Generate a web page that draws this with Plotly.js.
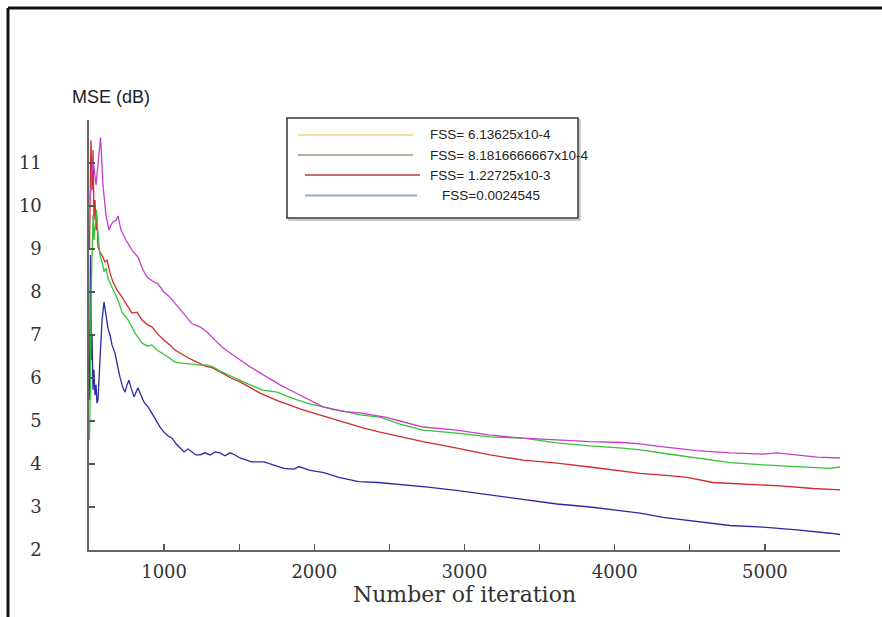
<!DOCTYPE html>
<html>
<head>
<meta charset="utf-8">
<script src="https://cdn.plot.ly/plotly-3.0.1.min.js"></script>
<style>html,body{margin:0;padding:0;background:#fff;}#chart{width:882px;height:617px;}</style>
</head>
<body>
<div id="chart"></div>
<script>
// ---- data ----
var legendLabels = ["FSS= 6.13625x10-4", "FSS= 8.1816666667x10-4", "FSS= 1.22725x10-3", " FSS=0.0024545"];
var legendColors = ["#ece39a", "#b3b69e", "#cf6a72", "#86b2c6"];

var iterPink = [507,527,547,560,577,593,613,633,646,660,680,693,713,746,786,826,860,886,919,959,999,1039,1093,1139,1186,1239,1286,1339,1386,1439,1505,1572,1639,1705,1772,1838,1905,1985,2058,2138,2218,2304,2384,2471,2571,2724,2950,3170,3390,3616,3836,4055,4169,4322,4548,4768,4988,5081,5214,5347,5500];
var msePink = [10.14,11.07,10.49,10.95,11.6,10.49,9.79,9.44,9.56,9.63,9.67,9.77,9.44,9.21,8.98,8.81,8.51,8.35,8.26,8.19,8.0,7.88,7.65,7.44,7.26,7.19,7.07,6.88,6.72,6.58,6.42,6.26,6.12,5.98,5.84,5.72,5.6,5.47,5.33,5.26,5.21,5.19,5.14,5.09,5.0,4.86,4.79,4.67,4.6,4.56,4.52,4.5,4.47,4.40,4.31,4.26,4.23,4.26,4.21,4.16,4.14];

var iterGreen = [503,510,513,520,527,533,540,550,560,573,587,600,613,626,640,660,680,693,720,760,806,853,893,919,953,986,1026,1073,1106,1172,1239,1286,1326,1372,1425,1505,1572,1658,1752,1818,1885,1971,2058,2138,2218,2304,2437,2571,2724,2950,3170,3390,3616,3836,4055,4169,4322,4548,4768,4988,5214,5434,5500];
var mseGreen = [4.56,5.95,7.81,8.98,9.79,9.21,9.56,9.91,9.33,8.86,8.70,8.47,8.56,8.33,8.21,8.05,7.91,7.81,7.53,7.35,7.05,6.81,6.74,6.77,6.65,6.58,6.49,6.37,6.35,6.33,6.3,6.3,6.26,6.16,6.07,5.95,5.84,5.72,5.67,5.58,5.49,5.4,5.33,5.26,5.21,5.14,5.09,4.93,4.79,4.72,4.63,4.6,4.49,4.42,4.37,4.33,4.25,4.13,4.03,3.98,3.94,3.9,3.93];

var iterRed = [503,507,510,513,520,527,533,540,547,553,560,573,593,606,620,640,660,686,720,753,786,820,853,893,919,959,999,1039,1073,1106,1159,1219,1272,1326,1386,1445,1505,1572,1639,1685,1758,1838,1905,1991,2104,2218,2324,2437,2571,2724,2950,3170,3390,3616,3836,4055,4169,4322,4481,4654,4881,5101,5321,5500];
var mseRed = [8.98,10.84,10.14,11.53,10.37,11.3,9.67,10.14,9.44,9.74,9.05,8.93,8.81,8.7,8.74,8.44,8.23,8.05,7.88,7.7,7.51,7.53,7.35,7.23,7.19,7.02,6.88,6.77,6.65,6.58,6.47,6.37,6.28,6.23,6.12,6.0,5.91,5.77,5.65,5.58,5.47,5.37,5.28,5.19,5.07,4.95,4.84,4.74,4.63,4.52,4.37,4.21,4.09,4.02,3.93,3.82,3.78,3.74,3.69,3.57,3.53,3.49,3.43,3.4];

var iterBlue = [503,507,510,513,517,520,527,533,540,547,553,560,573,587,600,613,626,640,653,673,693,706,726,740,753,766,780,800,813,826,846,866,893,919,946,973,999,1026,1053,1079,1106,1133,1159,1186,1212,1239,1272,1306,1339,1372,1405,1439,1472,1505,1583,1665,1732,1798,1865,1898,1965,2063,2163,2295,2427,2560,2757,2957,3170,3390,3616,3836,4055,4169,4322,4548,4768,4988,5214,5434,5500];
var mseBlue = [5.49,7.12,8.86,7.81,6.42,7.0,5.72,6.19,5.6,5.84,5.42,5.49,6.42,7.35,7.77,7.4,7.16,7.0,6.77,6.58,6.23,6.02,5.77,5.67,5.84,5.95,5.77,5.56,5.67,5.77,5.6,5.44,5.33,5.19,5.02,4.86,4.74,4.65,4.6,4.47,4.37,4.28,4.35,4.28,4.21,4.21,4.26,4.21,4.28,4.26,4.19,4.26,4.21,4.14,4.05,4.05,3.98,3.9,3.88,3.94,3.86,3.8,3.69,3.59,3.57,3.53,3.46,3.38,3.28,3.17,3.07,3.0,2.91,2.86,2.76,2.67,2.57,2.53,2.47,2.39,2.36];

var xTickVals = [1000, 2000, 3000, 4000, 5000];
var yTickVals = [2,3,4,5,6,7,8,9,10,11,12];
var yTickText = ["2","3","4","5","6","7","8","9","10","11",""];

// ---- layout helpers (pixel -> paper) ----
var W = 882, H = 617, L = 89, R = 42, T = 120, B = 67;
var pw = W - L - R, ph = H - T - B;
function px(x){ return (x - L) / pw; }
function py(y){ return (H - B - y) / ph; }

function curve(x, y, color){
  return {x: x, y: y, type: 'scatter', mode: 'lines', showlegend: false,
          line: {color: color, width: 1.3}, hoverinfo: 'skip'};
}
var traces = [
  curve(iterBlue, mseBlue, '#2a2aa6'),
  curve(iterRed, mseRed, '#d22a2a'),
  curve(iterGreen, mseGreen, '#34c434'),
  curve(iterPink, msePink, '#c63fcc')
];

var shapes = [
  // outer frame (top and left)
  {type:'line', xref:'paper', yref:'paper', x0:px(8), x1:px(882), y0:py(8), y1:py(8), line:{color:'#111', width:3}},
  {type:'line', xref:'paper', yref:'paper', x0:px(8), x1:px(8), y0:py(8), y1:py(617), line:{color:'#111', width:3}},
  // legend box with light shadow
  {type:'rect', xref:'paper', yref:'paper', x0:px(289), x1:px(580), y0:py(220), y1:py(120), line:{color:'#bbb', width:1.5}},
  {type:'rect', xref:'paper', yref:'paper', x0:px(287), x1:px(578), y0:py(218), y1:py(118), line:{color:'#333', width:1.5}, fillcolor:'rgba(255,255,255,1)'}
];
var annotations = [
  {xref:'paper', yref:'paper', x:px(70), y:py(97), xanchor:'left', yanchor:'middle', showarrow:false,
   text:'MSE (dB)', font:{family:'Liberation Sans, Arial', size:18, color:'#222'}}
];
var rowY = [135, 155, 175, 195.5];
var lineX0 = [298, 298, 305, 305], lineX1 = [413, 413, 420, 417];
var textX = [428, 428, 428, 440];
for (var i = 0; i < 4; i++) {
  shapes.push({type:'line', xref:'paper', yref:'paper', x0:px(lineX0[i]), x1:px(lineX1[i]), y0:py(rowY[i]), y1:py(rowY[i]),
               line:{color:legendColors[i], width:1.8}});
  annotations.push({xref:'paper', yref:'paper', x:px(textX[i]), y:py(rowY[i]), xanchor:'left', yanchor:'middle', showarrow:false,
               text:legendLabels[i].trim(), font:{family:'Liberation Sans, Arial', size:13.5, color:'#222'}});
}

var tickFont = {family:'DejaVu Serif, Liberation Serif', size:18, color:'#333'};
var layout = {
  width: W, height: H,
  margin: {l:L, r:R, t:T, b:B, pad:0},
  paper_bgcolor: '#fff', plot_bgcolor: '#fff',
  showlegend: false,
  xaxis: {
    range: [500, 5500], tickmode: 'array', tickvals: xTickVals,
    ticks: 'inside', ticklen: 6, tickwidth: 1.3, tickcolor: '#555',
    minor: {tickmode:'linear', tick0: 500, dtick: 500, ticks:'inside', ticklen: 6, tickwidth: 1.3, tickcolor:'#555'},
    showgrid: false, zeroline: false, showline: true, linecolor: '#666', linewidth: 1.6,
    tickfont: tickFont, ticklabelstandoff: 5,
    title: {text: 'Number of iteration', font:{family:'DejaVu Serif, Liberation Serif', size:22, color:'#333'}, standoff: 0}
  },
  yaxis: {
    range: [2, 12], tickmode: 'array', tickvals: yTickVals, ticktext: yTickText,
    ticks: 'inside', ticklen: 6, tickwidth: 1.3, tickcolor: '#555',
    showgrid: false, zeroline: false, showline: true, linecolor: '#666', linewidth: 1.6,
    tickfont: tickFont, ticklabelstandoff: 42
  },
  shapes: shapes,
  annotations: annotations
};

Plotly.newPlot('chart', traces, layout, {staticPlot: true, displayModeBar: false});
</script>
</body>
</html>
